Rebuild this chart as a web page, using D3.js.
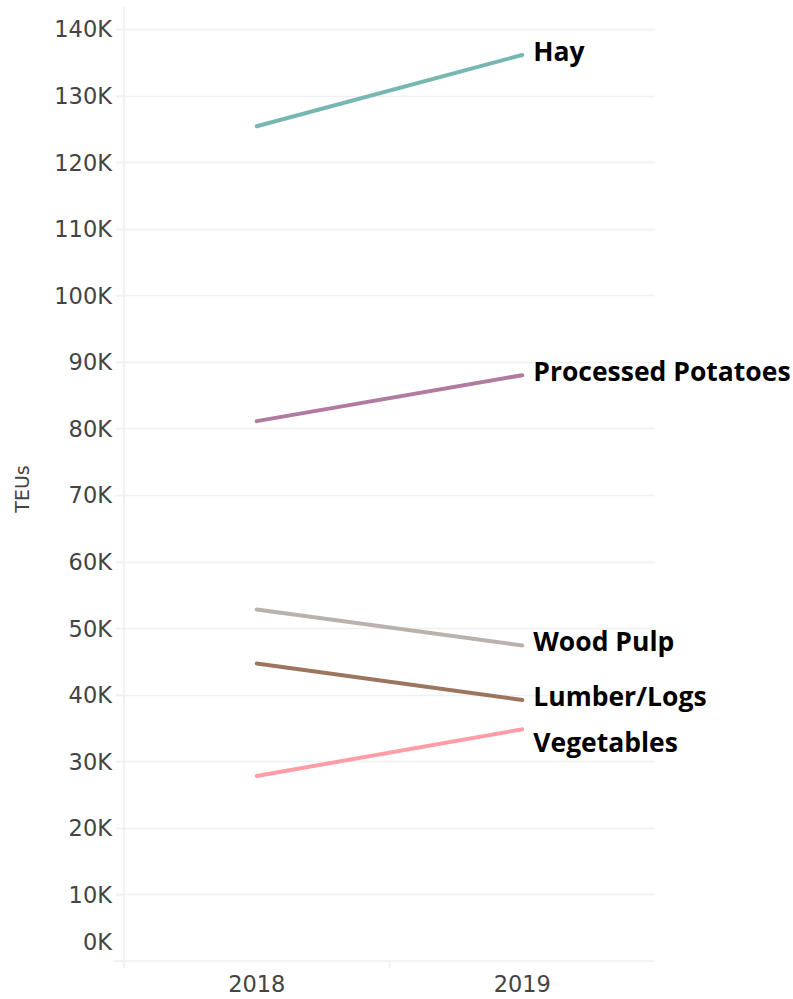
<!DOCTYPE html>
<meta charset="utf-8">
<style>
  body { margin: 0; background: #fff; }
</style>
<body>
  <script src="https://d3js.org/d3.v7.min.js"></script>
  <script>
    // data
    var years = ["2018", "2019"];
    var categories = ["Hay", "Processed Potatoes", "Wood Pulp", "Lumber/Logs", "Vegetables"];
    var teu2018 = [125400, 81100, 52800, 44700, 27800];
    var teu2019 = [136100, 88000, 47400, 39200, 34800];
    var yTicks = [0, 10000, 20000, 30000, 40000, 50000, 60000, 70000, 80000, 90000,
      100000, 110000, 120000, 130000, 140000];
    var palette = ["#76b7b2", "#b07aa1", "#bab0ac", "#9c755f", "#ff9da7"];

    var width = 793, height = 999;
    var plot = { left: 124, right: 655, top: 7, bottom: 961 };

    var svg = d3.select("body").append("svg")
      .attr("width", width)
      .attr("height", height);

    var x = d3.scaleBand().domain(years).range([plot.left, plot.right]);
    var y = d3.scaleLinear().domain([0, 140000]).range([plot.bottom, 29]);
    var color = d3.scaleOrdinal().domain(categories).range(palette);

    var series = categories.map(function(c, i) {
      return { name: c, values: [teu2018[i], teu2019[i]] };
    });

    // gridlines
    svg.append("g")
      .selectAll("line")
      .data(yTicks.filter(function(t) { return t > 0; }))
      .join("line")
      .attr("x1", plot.left - 8)
      .attr("x2", plot.right)
      .attr("y1", function(d) { return Math.round(y(d)) + 0.5; })
      .attr("y2", function(d) { return Math.round(y(d)) + 0.5; })
      .style("stroke", "#f0f0f0")
      .style("stroke-width", 1.5);

    // y axis
    var yAxis = svg.append("g")
      .attr("transform", "translate(" + plot.left + ",0)")
      .call(d3.axisLeft(y).tickValues(yTicks).tickSize(8).tickPadding(4)
        .tickFormat(function(d) { return (d / 1000) + "K"; }));
    yAxis.select(".domain").remove();
    yAxis.selectAll(".tick line").style("stroke", "#f0f0f0").style("stroke-width", 1.5);
    yAxis.selectAll(".tick text")
      .style("font-family", "DejaVu Sans")
      .style("font-size", "22.5px")
      .style("fill", "#444")
      .attr("dy", function(d) { return d === 0 ? "-0.5em" : "0.35em"; });
    yAxis.append("line")
      .attr("x1", 0).attr("x2", 0)
      .attr("y1", plot.top).attr("y2", plot.bottom + 7)
      .style("stroke", "#eeeeee").style("stroke-width", 1.5);

    // x axis
    var xAxis = svg.append("g")
      .attr("transform", "translate(0," + plot.bottom + ")")
      .call(d3.axisBottom(x).tickSize(0).tickPadding(15));
    xAxis.select(".domain").remove();
    xAxis.selectAll(".tick text")
      .style("font-family", "DejaVu Sans")
      .style("font-size", "22.5px")
      .style("fill", "#444");
    xAxis.append("line")
      .attr("x1", plot.left - 11).attr("x2", plot.right)
      .attr("y1", 0).attr("y2", 0)
      .style("stroke", "#efefef").style("stroke-width", 1.5);
    xAxis.append("line")
      .attr("x1", x("2019")).attr("x2", x("2019"))
      .attr("y1", 0).attr("y2", 7)
      .style("stroke", "#efefef").style("stroke-width", 1.5);

    // y axis title
    svg.append("text")
      .attr("transform", "translate(29,489) rotate(-90)")
      .attr("text-anchor", "middle")
      .style("font-family", "DejaVu Sans")
      .style("font-size", "19px")
      .style("fill", "#444")
      .text("TEUs");

    // lines
    var line = d3.line()
      .x(function(d, i) { return x(years[i]) + x.bandwidth() / 2; })
      .y(function(d) { return y(d); });

    svg.append("g")
      .selectAll("path")
      .data(series)
      .join("path")
      .attr("d", function(d) { return line(d.values); })
      .style("fill", "none")
      .style("stroke", function(d) { return color(d.name); })
      .style("stroke-width", 4)
      .style("stroke-linecap", "round");

    // end labels, nudged apart where they would overlap
    var labels = series.map(function(d) {
      return { name: d.name, y: y(d.values[1]) + 6 };
    }).sort(function(a, b) { return a.y - b.y; });
    for (var i = 1; i < labels.length; i++) {
      if (labels[i].y - labels[i - 1].y < 46) labels[i].y = labels[i - 1].y + 46;
    }

    svg.append("g")
      .selectAll("text")
      .data(labels)
      .join("text")
      .attr("x", x("2019") + x.bandwidth() / 2 + 11)
      .attr("y", function(d) { return d.y; })
      .style("font-family", "Open Sans")
      .style("font-weight", "bold")
      .style("font-size", "26.5px")
      .style("fill", "#000")
      .text(function(d) { return d.name; });
  </script>
</body>
